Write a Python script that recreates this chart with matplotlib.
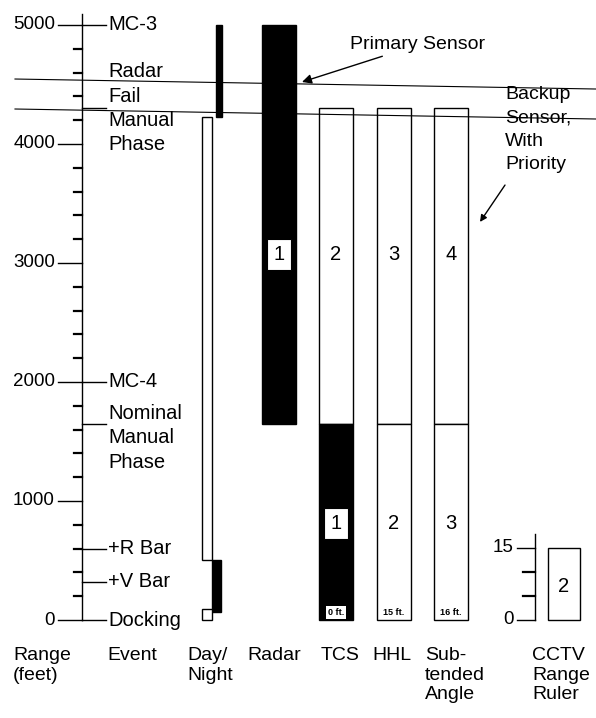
import matplotlib
matplotlib.use("Agg")
import matplotlib.pyplot as plt

plt.rcParams['font.family'] = ['Liberation Sans', 'DejaVu Sans']

# ---- data (range in feet) ----
range_ticks = [0, 1000, 2000, 3000, 4000, 5000]
minor_ticks = list(range(200, 5000, 200))

event_labels = ["MC-3", "Radar\nFail\nManual\nPhase", "MC-4",
                "Nominal\nManual\nPhase", "+R Bar", "+V Bar", "Docking"]
event_range = [5000, 4300, 2000, 1650, 600, 320, 0]

# radar fail band (scan is slightly tilted: left / right end)
radar_fail_top = [4546, 4462]
radar_fail_bottom = [4294, 4210]

# day/night lighting: (bottom, top, colour)
day_night = [(4225, 5000, 'black'), (504, 4225, 'white'),
             (70, 504, 'black'), (0, 90, 'white')]

sensors = ["Radar", "TCS", "HHL", "Sub-\ntended\nAngle"]
sensor_top = [5000, 4300, 4300, 4300]
manual_switch = 1650
upper_fill = ['black', 'white', 'white', 'white']
lower_fill = [None, 'black', 'white', 'white']
upper_priority = ["1", "2", "3", "4"]
lower_priority = [None, "1", "2", "3"]
min_range_note = [None, "0 ft.", "15 ft.", "16 ft."]

cctv_ticks = [0, 5, 10, 15]
cctv_range = 15
cctv_priority = "2"

# ---- layout ----
fig = plt.figure(figsize=(5.96, 7.18), dpi=100)
ax = fig.add_axes([0, 0, 1, 1])
ax.set_xlim(0, 596)
ax.set_ylim(-823.5, 5210)
ax.axis('off')

ax2 = fig.add_axes([0, 0, 1, 1])
ax2.set_xlim(0, 596)
ax2.set_ylim(-20.42, 129.17)
ax2.axis('off')
ax2.patch.set_alpha(0)

fs_num = 13.5
fs_evt = 14.5
fs_col = 14
lw = 1.0

# range axis
axis_x = 82
ax.plot([axis_x, axis_x], [0, 5090], color='k', lw=lw)
for t in range_ticks:
    ax.plot([58, axis_x], [t, t], color='k', lw=lw)
    ax.text(55, t, str(t), ha='right', va='center', fontsize=fs_num)
for t in minor_ticks:
    if t % 1000:
        ax.plot([74, axis_x], [t, t], color='k', lw=1.6)

# events
for lab, r in zip(event_labels, event_range):
    ax.plot([axis_x, 106], [r, r], color='k', lw=lw)
    if lab.startswith("Nominal"):
        ax.text(108, r + 165, lab, ha='left', va='top', fontsize=fs_evt,
                linespacing=1.35)
    else:
        ax.text(108, r, lab, ha='left', va='center', fontsize=fs_evt,
                linespacing=1.35)

ax.plot([15, 596], radar_fail_top, color='k', lw=0.8)
ax.plot([15, 596], radar_fail_bottom, color='k', lw=0.8)

# day / night column
dn_x = [219, 207, 216.5, 207]
dn_w = [6, 10, 9, 10]
for (b, t, c), x, w in zip(day_night, dn_x, dn_w):
    ax.bar(x, t - b, bottom=b, width=w, color=c, edgecolor='k', lw=lw)

# sensor columns
sens_x = [279, 336, 394, 451]
sens_w = 34
for i, name in enumerate(sensors):
    x = sens_x[i]
    ax.bar(x, sensor_top[i] - manual_switch, bottom=manual_switch,
           width=sens_w, color=upper_fill[i], edgecolor='k', lw=lw)
    if lower_fill[i]:
        ax.bar(x, manual_switch, bottom=0, width=sens_w,
               color=lower_fill[i], edgecolor='k', lw=lw)
    boxed = upper_fill[i] == 'black'
    ax.text(x, 3070, upper_priority[i], ha='center', va='center',
            fontsize=fs_evt,
            bbox=dict(boxstyle='square,pad=0.3', fc='white', ec='k', lw=0.8)
            if boxed else None)
    if lower_priority[i]:
        boxed = lower_fill[i] == 'black'
        ax.text(x, 810, lower_priority[i], ha='center', va='center',
                fontsize=fs_evt,
                bbox=dict(boxstyle='square,pad=0.3', fc='white', ec='k', lw=0.8)
                if boxed else None)
    if min_range_note[i]:
        ax.text(x, 65, min_range_note[i], ha='center', va='center',
                fontsize=6.5, fontweight='bold',
                bbox=dict(boxstyle='square,pad=0.2', fc='white', ec='none'))

# CCTV range ruler
cx = 535
ax2.plot([cx, cx], [0, 18], color='k', lw=lw)
for t in cctv_ticks:
    if t in (0, 15):
        ax2.plot([517, cx], [t, t], color='k', lw=lw)
        ax2.text(514, t, str(t), ha='right', va='center', fontsize=fs_num)
    else:
        ax2.plot([523, cx], [t, t], color='k', lw=1.6)
ax2.bar(564, cctv_range, bottom=0, width=32, color='white', edgecolor='k', lw=lw)
ax2.text(564, 6.9, cctv_priority, ha='center', va='center', fontsize=fs_evt)

# annotations
ax.annotate("Primary Sensor", xy=(302, 4521), xytext=(350, 4832),
            ha='left', va='center', fontsize=14,
            arrowprops=dict(arrowstyle='-|>', color='k', lw=1.0,
                            shrinkA=0, shrinkB=0))
ax.text(505, 4487, "Backup\nSensor,\nWith\nPriority", ha='left', va='top',
        fontsize=14, linespacing=1.49)
ax.annotate("", xy=(480, 3345), xytext=(505, 3655),
            arrowprops=dict(arrowstyle='-|>', color='k', lw=1.0,
                            shrinkA=0, shrinkB=0))

# column headings
col_labels = ["Range\n(feet)", "Event", "Day/\nNight"] + sensors + ["CCTV\nRange\nRuler"]
col_x = [13, 107, 187, 247, 321, 372, 425, 532]
for lab, x in zip(col_labels, col_x):
    ax.text(x, -228, lab, ha='left', va='top', fontsize=fs_col,
            linespacing=1.2)

fig.savefig("out.png", dpi=100, facecolor='white')
